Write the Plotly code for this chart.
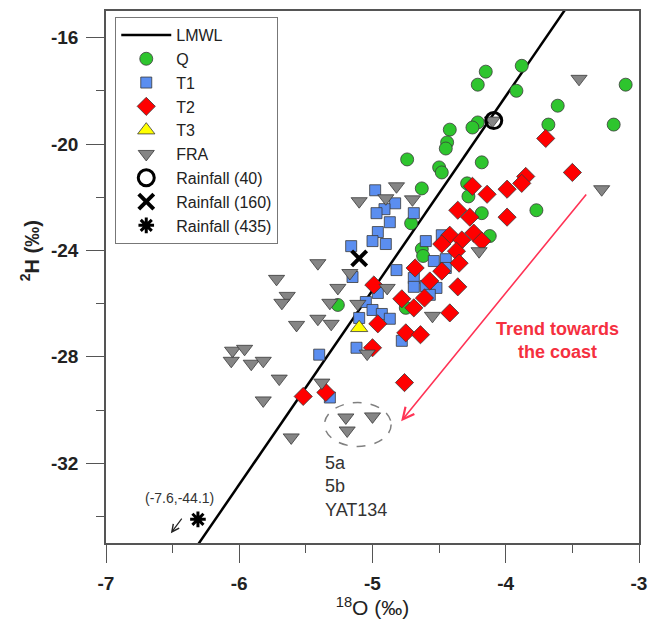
import plotly.graph_objects as go

# ---- Isotope data (d18O, d2H in per mil) ----
q_o18 = [-4.15, -4.21, -3.88, -3.92, -3.10, -3.61, -3.68, -3.19, -4.21, -4.25,
         -4.42, -4.44, -4.45, -4.74, -4.18, -4.50, -4.48, -4.63, -4.29, -4.28,
         -4.18, -3.77, -4.71, -4.12, -4.63, -4.62, -5.26, -4.75]
q_h2 = [-17.28, -17.77, -17.06, -18.00, -17.77, -18.56, -19.27, -19.27, -19.19, -19.38,
        -19.46, -19.94, -20.17, -20.58, -20.69, -20.88, -21.07, -21.67, -21.48, -21.97,
        -22.60, -22.49, -22.98, -23.46, -23.95, -24.21, -26.05, -26.16]

t1_o18 = [-4.98, -4.83, -4.91, -4.97, -4.87, -4.96, -5.00, -4.90, -5.16, -4.69,
          -4.60, -5.15, -4.82, -4.69, -4.69, -4.96, -5.05, -5.00, -4.93, -4.87,
          -5.10, -5.12, -5.40, -4.78, -4.54, -4.52, -5.32, -4.48, -4.45, -4.45,
          -4.60, -4.57]
t1_h2 = [-21.74, -22.23, -22.45, -22.60, -22.94, -23.31, -23.65, -23.76, -23.84, -22.60,
         -23.65, -25.00, -24.74, -25.04, -25.37, -25.60, -25.94, -26.24, -26.39, -26.57,
         -26.54, -27.66, -27.92, -27.40, -24.40, -25.41, -29.53, -23.43, -24.33, -24.66,
         -25.34, -25.67]

t2_o18 = [-3.70, -3.50, -3.85, -3.88, -3.99, -4.25, -4.14, -4.36, -4.27, -3.99,
          -4.42, -4.33, -4.24, -4.18, -4.48, -4.37, -4.35, -4.48, -4.68, -4.57,
          -4.36, -4.78, -4.61, -4.99, -4.69, -4.96, -4.75, -4.64, -5.00, -4.76,
          -5.52, -5.35, -4.42]
t2_h2 = [-19.79, -21.07, -21.22, -21.48, -21.70, -21.59, -21.89, -22.49, -22.75, -22.75,
         -23.43, -23.61, -23.35, -23.65, -23.76, -24.03, -24.48, -24.78, -24.66, -25.15,
         -25.37, -25.82, -25.79, -25.30, -26.16, -26.76, -27.10, -27.17, -27.66, -28.97,
         -29.49, -29.34, -26.35]

t3_o18 = [-5.10]
t3_h2 = [-26.91]

fra_o18 = [-3.45, -3.28, -4.10, -4.20, -4.82, -4.90, -4.70, -5.10, -5.41, -5.72,
           -5.64, -5.68, -5.17, -5.26, -5.32, -5.11, -4.89, -4.55, -5.57, -5.41,
           -5.31, -6.05, -5.96, -6.06, -5.91, -5.82, -5.70, -5.38, -5.82, -5.61,
           -5.20, -5.19, -5.00, -5.04]
fra_h2 = [-17.55, -21.70, -19.12, -24.03, -21.59, -22.04, -22.08, -22.15, -24.48, -25.07,
          -25.71, -25.97, -24.85, -25.41, -25.97, -26.01, -25.41, -26.46, -26.80, -26.57,
          -26.76, -27.77, -27.70, -28.15, -28.26, -28.15, -28.82, -28.97, -29.64, -31.03,
          -30.28, -30.77, -30.24, -27.88]

rain40_o18, rain40_h2 = [-4.09], [-19.12]
rain160_o18, rain160_h2 = [-5.10], [-24.30]
rain435_o18, rain435_h2 = [-6.31], [-34.11]

# Local meteoric water line: d2H = slope * d18O + intercept
lmwl_slope = 7.3
lmwl_intercept = 11.0
lmwl_o18 = [-7.0, -3.0]
lmwl_h2 = [lmwl_slope * v + lmwl_intercept for v in lmwl_o18]

# Axis ticks (plain hyphen-minus labels)
x_tickvals = [-7, -6, -5, -4, -3]
x_ticktext = ["-7", "-6", "-5", "-4", "-3"]
y_tickvals = [-32, -28, -24, -20, -16]
y_ticktext = ["-32", "-28", "-24", "-20", "-16"]

FONT = "Arial, Liberation Sans, sans-serif"
EDGE = dict(color="#3a3a3a", width=0.8)

fig = go.Figure()
fig.add_trace(go.Scatter(x=lmwl_o18, y=lmwl_h2, mode="lines", name="LMWL",
                         line=dict(color="black", width=2.5), legendgroup="a"))
fig.add_trace(go.Scatter(x=q_o18, y=q_h2, mode="markers", name="Q", legendgroup="b",
                         marker=dict(symbol="circle", size=13, color="#2ec52e", line=EDGE)))
fig.add_trace(go.Scatter(x=t1_o18, y=t1_h2, mode="markers", name="T1", legendgroup="c",
                         marker=dict(symbol="square", size=11, color="#5b8ef0", line=EDGE)))
fig.add_trace(go.Scatter(x=t2_o18, y=t2_h2, mode="markers", name="T2", legendgroup="d",
                         marker=dict(symbol="diamond", size=14, color="#ff0000", line=EDGE)))
fig.add_trace(go.Scatter(x=t3_o18, y=t3_h2, mode="markers", name="T3", legendgroup="e",
                         marker=dict(symbol="triangle-up", size=15, color="#ffff00", line=EDGE)))
fig.add_trace(go.Scatter(x=fra_o18, y=fra_h2, mode="markers", name="FRA", legendgroup="f",
                         marker=dict(symbol="triangle-down", size=14, color="#858585", line=EDGE)))
fig.add_trace(go.Scatter(x=rain40_o18, y=rain40_h2, mode="markers", name="Rainfall (40)",
                         legendgroup="g",
                         marker=dict(symbol="circle-open", size=16, color="black",
                                     line=dict(color="black", width=3))))
fig.add_trace(go.Scatter(x=rain160_o18, y=rain160_h2, mode="markers", name="Rainfall (160)",
                         legendgroup="h",
                         marker=dict(symbol="x-thin-open", size=15, color="black",
                                     line=dict(color="black", width=4))))
fig.add_trace(go.Scatter(x=rain435_o18, y=rain435_h2, mode="markers", name="Rainfall (435)",
                         legendgroup="i",
                         marker=dict(symbol="asterisk-open", size=13, color="black",
                                     line=dict(color="black", width=3))))

# Dashed ellipse round the 5a / 5b / YAT134 samples
fig.add_shape(type="circle", xref="x", yref="y", x0=-5.36, x1=-4.86, y0=-31.37, y1=-29.72,
              line=dict(color="#808080", width=1.5, dash="dash"))

annotations = [
    # y-axis title, set level with the -24 tick
    dict(x=-0.143, y=-24.0, xref="paper", yref="y", text="<b><sup>2</sup>H (‰)</b>",
         textangle=-90, showarrow=False, xanchor="center", yanchor="middle",
         font=dict(family=FONT, size=20, color="#222222")),
    dict(x=-5.37, y=-31.55, xref="x", yref="y", text="5a<br>5b<br>YAT134", showarrow=False,
         xanchor="left", yanchor="top", align="left",
         font=dict(family=FONT, size=18, color="#333333")),
    # trend arrow
    dict(x=-4.785, y=-30.42, ax=-3.387, ay=-21.84, xref="x", yref="y", axref="x", ayref="y",
         text="", showarrow=True, arrowhead=5, arrowsize=1.4, arrowwidth=1.6,
         arrowcolor="#ff3355"),
    dict(x=-3.614, y=-27.40, xref="x", yref="y", text="<b>Trend towards<br>the coast</b>",
         showarrow=False, align="center",
         font=dict(family=FONT, size=18, color="#f5303f")),
    # off-scale rainfall value
    dict(x=-6.513, y=-34.63, ax=12, ay=-16, xref="x", yref="y", text="", showarrow=True,
         arrowhead=5, arrowsize=1.2, arrowwidth=1.2, arrowcolor="#222222"),
    dict(x=-6.446, y=-33.31, xref="x", yref="y", text="(-7.6,-44.1)", showarrow=False,
         font=dict(family=FONT, size=14, color="#333333")),
]

axis_common = dict(showline=True, linecolor="#555555", linewidth=1.5, mirror=True,
                   showgrid=False, zeroline=False, ticks="outside", ticklen=18,
                   tickwidth=1.2, tickcolor="#555555", ticklabelstandoff=4,
                   tickfont=dict(family=FONT, size=19, color="#222222", weight="bold"))

fig.update_xaxes(range=[-7, -3], tickmode="array", tickvals=x_tickvals, ticktext=x_ticktext,
                 minor=dict(dtick=0.5, tick0=-7, ticks="outside", ticklen=8,
                            tickcolor="#555555"),
                 title=dict(text="<sup>18</sup>O (‰)", standoff=2,
                            font=dict(family=FONT, size=21, color="#222222")),
                 **axis_common)
fig.update_yaxes(range=[-35, -15], tickmode="array", tickvals=y_tickvals, ticktext=y_ticktext,
                 minor=dict(dtick=2, tick0=-16, ticks="outside", ticklen=8,
                            tickcolor="#555555"),
                 **axis_common)

fig.update_layout(
    width=656, height=625,
    margin=dict(l=106, r=16, t=9, b=82),
    plot_bgcolor="white", paper_bgcolor="white",
    annotations=annotations,
    legend=dict(x=0.017, y=0.989, xanchor="left", yanchor="top",
                bgcolor="white", bordercolor="#777777", borderwidth=1.2,
                font=dict(family=FONT, size=16, color="#222222"),
                tracegroupgap=0, itemwidth=50),
    showlegend=True,
)

fig.write_html("out.html")
